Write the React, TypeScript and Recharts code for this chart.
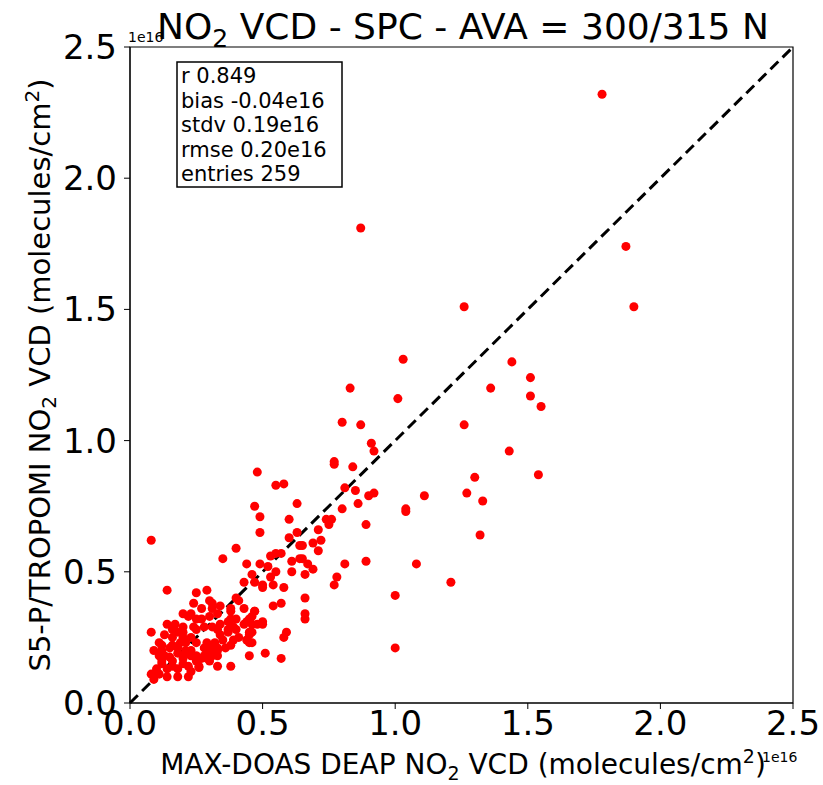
import { ScatterChart, Scatter, XAxis, YAxis, ZAxis, ReferenceLine, ReferenceArea, Customized } from "recharts";

// MAX-DOAS DEAP NO2 VCD (1e16 molecules/cm2)
const maxDoas = [
  1.78, 0.87, 1.87, 1.9, 1.26, 1.03, 0.83, 1.44, 1.36, 1.51, 1.51, 1.55, 1.01, 0.8, 0.87, 1.26, 0.91, 0.92, 1.43, 0.77,
  0.77, 0.48, 0.84, 1.3, 1.54, 0.55, 0.58, 0.81, 0.85, 0.86, 0.9, 0.92, 1.11, 1.27, 1.33, 0.8, 0.74, 0.76, 0.75, 0.89,
  1.04, 1.04, 1.32, 0.71, 0.72, 0.69, 0.65, 0.71, 0.65, 0.67, 0.69, 0.81, 0.89, 1.08, 0.66, 0.78, 0.77, 1.21, 0.66, 1.0,
  0.66, 0.66, 1.0, 0.47, 0.63, 0.49, 0.6, 0.49, 0.63, 0.6, 0.64, 0.53, 0.55, 0.57, 0.61, 0.64, 0.49, 0.52, 0.61, 0.46,
  0.53, 0.55, 0.5, 0.54, 0.5, 0.58, 0.54, 0.57, 0.47, 0.46, 0.5, 0.5, 0.46, 0.46, 0.59, 0.58, 0.46, 0.51, 0.57, 0.08,
  0.4, 0.35, 0.44, 0.43, 0.47, 0.14, 0.25, 0.29, 0.24, 0.31, 0.27, 0.31, 0.38, 0.38, 0.43, 0.47, 0.2, 0.23, 0.22, 0.25,
  0.27, 0.3, 0.33, 0.34, 0.37, 0.39, 0.43, 0.44, 0.48, 0.17, 0.2, 0.24, 0.14, 0.16, 0.18, 0.2, 0.25, 0.28, 0.31, 0.33,
  0.37, 0.4, 0.45, 0.08, 0.13, 0.16, 0.2, 0.23, 0.34, 0.37, 0.41, 0.45, 0.19, 0.21, 0.25, 0.29, 0.32, 0.35, 0.11, 0.12,
  0.16, 0.39, 0.44, 0.12, 0.15, 0.18, 0.21, 0.23, 0.28, 0.31, 0.33, 0.36, 0.38, 0.09, 0.29, 0.11, 0.13, 0.15, 0.18, 0.2,
  0.23, 0.25, 0.28, 0.31, 0.33, 0.12, 0.16, 0.2, 0.25, 0.27, 0.29, 0.33, 0.12, 0.16, 0.2, 0.22, 0.26, 0.3, 0.38, 0.45,
  0.1, 0.14, 0.18, 0.23, 0.26, 0.33, 0.11, 0.14, 0.18, 0.22, 0.08, 0.09, 0.45, 0.45, 0.4, 0.38, 0.3, 0.4, 0.34, 0.41,
];

// S5-P/TROPOMI NO2 VCD (1e16 molecules/cm2)
const tropomi = [
  2.32, 1.81, 1.74, 1.51, 1.51, 1.31, 1.2, 1.3, 1.2, 1.24, 1.17, 1.13, 1.16, 1.07, 1.06, 1.06, 0.99, 0.96, 0.96, 0.92,
  0.91, 0.88, 0.9, 0.86, 0.87, 0.83, 0.835, 0.82, 0.81, 0.76, 0.79, 0.8, 0.79, 0.8, 0.77, 0.74, 0.7, 0.7, 0.68, 0.68,
  0.74, 0.73, 0.64, 0.66, 0.62, 0.61, 0.6, 0.58, 0.55, 0.53, 0.51, 0.53, 0.54, 0.53, 0.49, 0.48, 0.45, 0.46, 0.4, 0.41,
  0.34, 0.32, 0.21, 0.75, 0.76, 0.71, 0.7, 0.65, 0.65, 0.63, 0.6, 0.56, 0.57, 0.57, 0.54, 0.55, 0.53, 0.52, 0.5, 0.49,
  0.48, 0.5, 0.45, 0.45, 0.44, 0.44, 0.37, 0.38, 0.35, 0.33, 0.31, 0.3, 0.3, 0.27, 0.27, 0.25, 0.23, 0.19, 0.17, 0.62,
  0.59, 0.55, 0.53, 0.46, 0.46, 0.43, 0.42, 0.43, 0.38, 0.38, 0.36, 0.36, 0.36, 0.35, 0.36, 0.35, 0.34, 0.34, 0.33, 0.32,
  0.32, 0.33, 0.34, 0.3, 0.31, 0.29, 0.3, 0.31, 0.3, 0.3, 0.29, 0.29, 0.3, 0.28, 0.27, 0.27, 0.28, 0.29, 0.29, 0.28,
  0.28, 0.28, 0.27, 0.27, 0.26, 0.25, 0.25, 0.25, 0.26, 0.27, 0.25, 0.26, 0.23, 0.23, 0.23, 0.23, 0.23, 0.24, 0.23, 0.22,
  0.22, 0.24, 0.24, 0.2, 0.21, 0.21, 0.2, 0.2, 0.21, 0.21, 0.21, 0.21, 0.22, 0.2, 0.19, 0.18, 0.18, 0.175, 0.19, 0.18,
  0.18, 0.18, 0.18, 0.18, 0.2, 0.16, 0.16, 0.17, 0.16, 0.17, 0.17, 0.18, 0.15, 0.14, 0.15, 0.14, 0.14, 0.16, 0.14, 0.18,
  0.13, 0.13, 0.13, 0.12, 0.135, 0.14, 0.11, 0.1, 0.1, 0.1, 0.11, 0.09, 0.23, 0.32, 0.32, 0.32, 0.39, 0.4, 0.37, 0.39,
];

const axisTicks = [0, 0.5, 1, 1.5, 2, 2.5];
const statsLines = ["r 0.849", "bias -0.04e16", "stdv 0.19e16", "rmse 0.20e16", "entries 259"];

const FONT = "'DejaVu Sans', sans-serif";

const points = maxDoas.map((x, i) => ({ x, y: tropomi[i] }));

function Annotations() {
  return (
    <g fontFamily={FONT} fill="#000">
      <text x={463} y={39} fontSize={36} textAnchor="middle">
        NO<tspan dy={8} fontSize={25}>2</tspan>
        <tspan dy={-8}> VCD - SPC - AVA = 300/315 N</tspan>
      </text>
      <text x={128} y={42} fontSize={14}>1e16</text>
      <text x={762} y={762} fontSize={14}>1e16</text>
      <text x={463} y={774} fontSize={28} textAnchor="middle">
        MAX-DOAS DEAP NO<tspan dy={6} fontSize={19}>2</tspan>
        <tspan dy={-6}> VCD (molecules/cm</tspan>
        <tspan dy={-11} fontSize={19}>2</tspan>
        <tspan dy={11}>)</tspan>
      </text>
      <text x={50} y={375} fontSize={29} textAnchor="middle" transform="rotate(-90, 50, 375)">
        S5-P/TROPOMI NO<tspan dy={6} fontSize={20}>2</tspan>
        <tspan dy={-6}> VCD (molecules/cm</tspan>
        <tspan dy={-11} fontSize={20}>2</tspan>
        <tspan dy={11}>)</tspan>
      </text>
      <rect x={177} y={62} width={165} height={125} fill="#fff" stroke="#000" strokeWidth={1.5} />
      {statsLines.map((line, i) => (
        <text key={line} x={181} y={83 + i * 24.5} fontSize={21}>
          {line}
        </text>
      ))}
    </g>
  );
}

export default function App() {
  return (
    <div style={{ position: "absolute", left: 0, top: 0, background: "#fff" }}>
      <ScatterChart width={823} height={785} margin={{ top: 47, right: 30, bottom: 0, left: 0 }}>
        <XAxis
          type="number"
          dataKey="x"
          domain={[0, 2.5]}
          ticks={axisTicks}
          tickFormatter={(v: number) => v.toFixed(1)}
          height={82}
          tickSize={6}
          tickMargin={2}
          stroke="#000"
          tick={{ fontSize: 34, fill: "#000", fontFamily: FONT }}
          allowDataOverflow
        />
        <YAxis
          type="number"
          dataKey="y"
          domain={[0, 2.5]}
          ticks={axisTicks}
          tickFormatter={(v: number) => v.toFixed(1)}
          width={130}
          tickSize={6}
          tickMargin={7}
          stroke="#000"
          tick={{ fontSize: 34, fill: "#000", fontFamily: FONT }}
          allowDataOverflow
        />
        <ZAxis range={[32, 32]} />
        <ReferenceArea x1={0} x2={2.5} y1={0} y2={2.5} fill="none" stroke="#000" strokeWidth={1.2} />
        <Scatter data={points} fill="#ff0000" isAnimationActive={false} />
        <ReferenceLine
          segment={[
            { x: 0, y: 0 },
            { x: 2.5, y: 2.5 },
          ]}
          stroke="#000"
          strokeWidth={3}
          strokeDasharray="11 6"
        />
        <Customized component={Annotations} />
      </ScatterChart>
    </div>
  );
}
